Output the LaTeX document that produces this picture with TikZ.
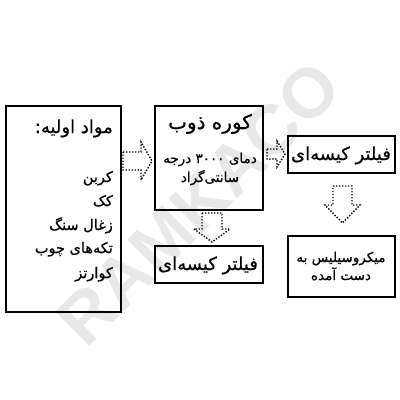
\documentclass[tikz,border=0pt]{standalone}
\usepackage{fontspec}
\TeXXeTstate=1
\newfontfamily\arabicfont[Script=Arabic,FakeBold=0.6]{DejaVu Sans}
\newfontfamily\wmfont{Liberation Sans}
\newcommand\fa[1]{{\arabicfont\beginR #1\endR}}
\begin{document}
\begin{tikzpicture}[x=1pt,y=-1pt,
  box/.style={draw=black,line width=2pt,inner sep=0pt},
  blockarr/.style={draw=black,line width=1.4pt,dash pattern=on 1.4pt off 1.6pt,line join=miter},
  title/.style={font=\arabicfont\fontsize{18}{21}\selectfont,inner sep=0pt,text height=0.75em,text depth=0.2em},
  listt/.style={font=\arabicfont\fontsize{14.5}{18}\selectfont,inner sep=0pt,text height=0.7em,text depth=0.2em},
  body/.style={font=\arabicfont\fontsize{13.5}{16}\selectfont,inner sep=0pt,text height=0.7em,text depth=0.2em}]
\useasboundingbox (0,0) rectangle (400,400);
% watermark
\node[rotate=45,text=black!9,font=\wmfont\bfseries\fontsize{70}{70}\selectfont,inner sep=0pt] (wm) at (199,203) {RAMKACO};
% boxes
\node[box,minimum width=115pt,minimum height=206pt] (raw) at (63.5,209) {};
\node[box,minimum width=108pt,minimum height=104pt] (furnace) at (209,158) {};
\node[box,minimum width=108pt,minimum height=37pt] (filterA) at (209,264.5) {};
\node[box,minimum width=107pt,minimum height=37pt] (filterB) at (341,154.5) {};
\node[box,minimum width=107pt,minimum height=61pt] (result) at (341,266.5) {};
% texts left box
\node[title,anchor=base east] (rawt) at (113,133) {\fa{مواد اولیه:}};
\node[listt,anchor=base east] (r1) at (113,182) {\fa{کربن}};
\node[listt,anchor=base east] (r2) at (113,206) {\fa{کک}};
\node[listt,anchor=base east] (r3) at (113,230) {\fa{زغال سنگ}};
\node[listt,anchor=base east] (r4) at (113,253) {\fa{تکه‌های چوب}};
\node[listt,anchor=base east] (r5) at (113,278) {\fa{کوارتز}};
% furnace
\node[title,font=\arabicfont\fontsize{20}{23}\selectfont,anchor=base] (ft) at (210,129) {\fa{کوره ذوب}};
\node[body,anchor=base] (f1) at (210,163) {\fa{دمای \beginL ۳۰۰۰\endL{} درجه}};
\node[body,anchor=base] (f2) at (210,182) {\fa{سانتی‌گراد}};
% filters
\node[title,anchor=base] (fa) at (208,270) {\fa{فیلتر کیسه‌ای}};
\node[title,anchor=base] (fb) at (341,160) {\fa{فیلتر کیسه‌ای}};
% result
\node[body,anchor=base] (res1) at (341,262) {\fa{میکروسیلیس به}};
\node[body,anchor=base] (res2) at (341,280) {\fa{دست آمده}};
% block arrows
\draw[blockarr] (123,152) -- (141,152) -- (141,142) -- (152,161) -- (141,180) -- (141,170) -- (123,170) -- cycle;
\draw[blockarr] (202,213) -- (222,213) -- (222,229) -- (230,229) -- (212,242) -- (194,229) -- (202,229) -- cycle;
\draw[blockarr] (267,149) -- (277,149) -- (277,141) -- (285,154) -- (277,167) -- (277,159) -- (267,159) -- cycle;
\draw[blockarr] (333,186) -- (352,186) -- (352,205) -- (360,205) -- (342.5,223) -- (325,205) -- (333,205) -- cycle;
\end{tikzpicture}
\end{document}
